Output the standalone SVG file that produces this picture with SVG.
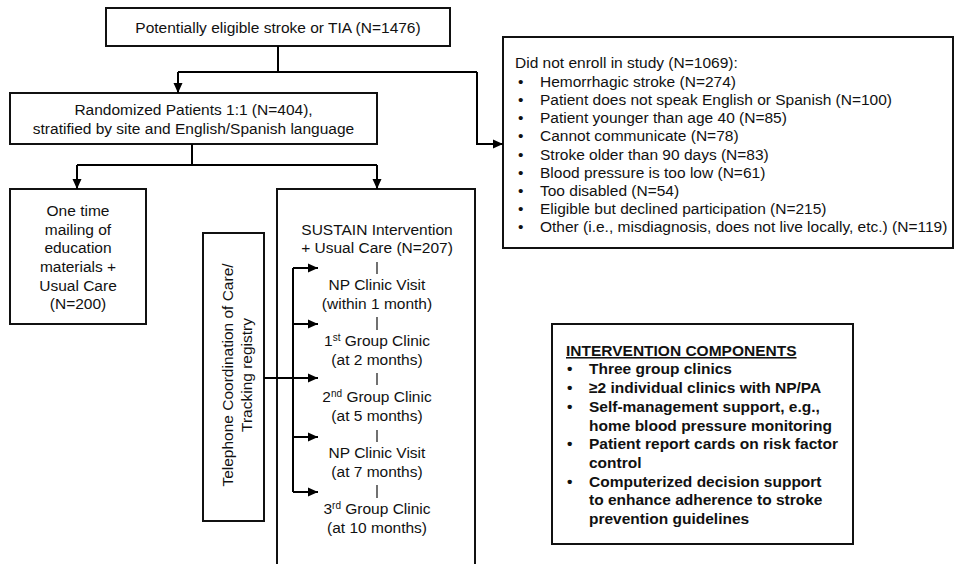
<svg xmlns="http://www.w3.org/2000/svg" width="954" height="564" viewBox="0 0 954 564">
<defs>
<marker id="ah" markerUnits="userSpaceOnUse" markerWidth="10" markerHeight="10" refX="10" refY="5" orient="auto">
<path d="M0,0.5 L10,5 L0,9.5 z" fill="#000"/>
</marker>
<style>
text{font-family:"Liberation Sans",Arial,sans-serif;font-size:15.5px;fill:#111}
.c{text-anchor:middle}
.b{font-weight:bold}
.box{fill:#fff;stroke:#111;stroke-width:2}
.ln{fill:none;stroke:#000;stroke-width:2}
.tk{stroke:#111;stroke-width:1.2}
.sup{font-size:10px}
</style>
</defs>
<g id="n-eligible">
<rect class="box" x="106" y="8" width="344" height="38"/>
<text class="c" x="278" y="33">Potentially eligible stroke or TIA (N=1476)</text>
</g>
<g id="n-randomized">
<rect class="box" x="10" y="93" width="367" height="51"/>
<text class="c" x="193.5" y="115">Randomized Patients 1:1 (N=404),</text>
<text class="c" x="193.5" y="134">stratified by site and English/Spanish language</text>
</g>
<g id="n-control">
<rect class="box" x="10" y="189" width="136" height="135"/>
<text class="c" x="78" y="216">One time</text>
<text class="c" x="78" y="235">mailing of</text>
<text class="c" x="78" y="253">education</text>
<text class="c" x="78" y="272">materials +</text>
<text class="c" x="78" y="291">Usual Care</text>
<text class="c" x="78" y="309">(N=200)</text>
</g>
<g id="n-sustain">
<path class="box" d="M277,566 V189 H475 V566"/>
<text class="c" x="377" y="235">SUSTAIN Intervention</text>
<text class="c" x="377" y="253">+ Usual Care (N=207)</text>
<line class="tk" x1="377" y1="262" x2="377" y2="274"/>
<text class="c" x="377" y="290">NP Clinic Visit</text>
<text class="c" x="377" y="309">(within 1 month)</text>
<line class="tk" x1="377" y1="317" x2="377" y2="330"/>
<text class="c" x="377" y="346">1<tspan class="sup" dy="-5">st</tspan><tspan dy="5"> Group Clinic</tspan></text>
<text class="c" x="377" y="365">(at 2 months)</text>
<line class="tk" x1="377" y1="373" x2="377" y2="385"/>
<text class="c" x="377" y="402">2<tspan class="sup" dy="-5">nd</tspan><tspan dy="5"> Group Clinic</tspan></text>
<text class="c" x="377" y="421">(at 5 months)</text>
<line class="tk" x1="377" y1="430" x2="377" y2="442"/>
<text class="c" x="377" y="458">NP Clinic Visit</text>
<text class="c" x="377" y="477">(at 7 months)</text>
<line class="tk" x1="377" y1="485" x2="377" y2="498"/>
<text class="c" x="377" y="514">3<tspan class="sup" dy="-5">rd</tspan><tspan dy="5"> Group Clinic</tspan></text>
<text class="c" x="377" y="533">(at 10 months)</text>
</g>
<g id="n-telephone">
<rect class="box" x="203" y="233" width="61" height="288"/>
<g transform="translate(233.5,375) rotate(-90)">
<text class="c" x="0" y="-0.5">Telephone Coordination of Care/</text>
<text class="c" x="0" y="18.5">Tracking registry</text>
</g>
</g>
<g id="n-excluded">
<rect class="box" x="503" y="37" width="450" height="211"/>
<text x="515" y="68">Did not enroll in study (N=1069):</text>
<g>
<text x="518" y="87">•</text><text x="540" y="87">Hemorrhagic stroke (N=274)</text>
<text x="518" y="105">•</text><text x="540" y="105">Patient does not speak English or Spanish (N=100)</text>
<text x="518" y="123">•</text><text x="540" y="123">Patient younger than age 40 (N=85)</text>
<text x="518" y="141">•</text><text x="540" y="141">Cannot communicate (N=78)</text>
<text x="518" y="160">•</text><text x="540" y="160">Stroke older than 90 days (N=83)</text>
<text x="518" y="178">•</text><text x="540" y="178">Blood pressure is too low (N=61)</text>
<text x="518" y="196">•</text><text x="540" y="196">Too disabled (N=54)</text>
<text x="518" y="214">•</text><text x="540" y="214">Eligible but declined participation (N=215)</text>
<text x="518" y="232">•</text><text x="540" y="232">Other (i.e., misdiagnosis, does not live locally, etc.) (N=119)</text>
</g>
</g>
<g id="n-components">
<rect class="box" x="552" y="324" width="301" height="220"/>
<text class="b" x="566" y="356" text-decoration="underline">INTERVENTION COMPONENTS</text>
<text class="b" x="567" y="374">•</text><text class="b" x="589" y="374">Three group clinics</text>
<text class="b" x="567" y="393">•</text><text class="b" x="589" y="393">≥2 individual clinics with NP/PA</text>
<text class="b" x="567" y="412">•</text><text class="b" x="589" y="412">Self-management support, e.g.,</text>
<text class="b" x="589" y="431">home blood pressure monitoring</text>
<text class="b" x="567" y="449">•</text><text class="b" x="589" y="449">Patient report cards on risk factor</text>
<text class="b" x="589" y="468">control</text>
<text class="b" x="567" y="487">•</text><text class="b" x="589" y="487">Computerized decision support</text>
<text class="b" x="589" y="505">to enhance adherence to stroke</text>
<text class="b" x="589" y="524">prevention guidelines</text>
</g>
<g id="connectors">
<path class="ln" d="M278,46 V72 M178,72 H477"/>
<path class="ln" d="M178,72 V93" marker-end="url(#ah)"/>
<path class="ln" d="M477,72 V144 H503" marker-end="url(#ah)"/>
<path class="ln" d="M192,144 V165 M77,165 H377"/>
<path class="ln" d="M77,165 V189" marker-end="url(#ah)"/>
<path class="ln" d="M377,165 V189" marker-end="url(#ah)"/>
<path class="ln" d="M293,268 V492"/>
<path class="ln" d="M264,378 H318" marker-end="url(#ah)"/>
<path class="ln" d="M293,268 H318" marker-end="url(#ah)"/>
<path class="ln" d="M293,324 H318" marker-end="url(#ah)"/>
<path class="ln" d="M293,437 H318" marker-end="url(#ah)"/>
<path class="ln" d="M293,492 H318" marker-end="url(#ah)"/>
</g>
</svg>
